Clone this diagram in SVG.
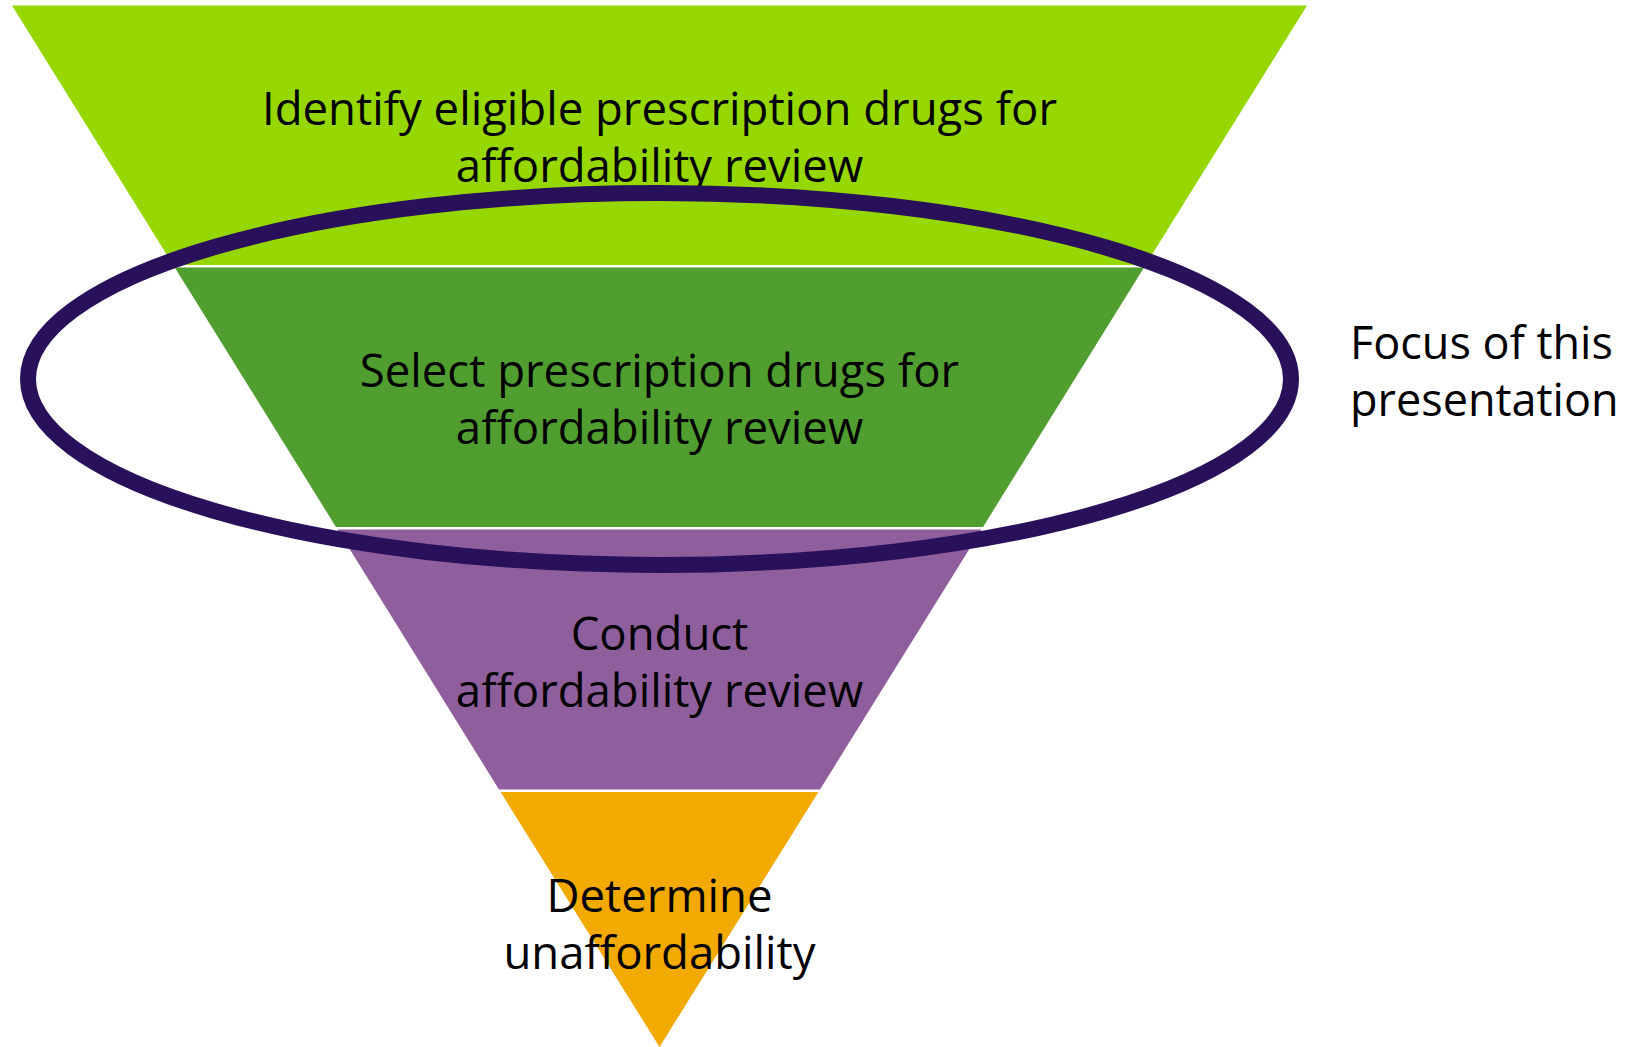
<svg xmlns="http://www.w3.org/2000/svg" width="1631" height="1047" viewBox="0 0 1631 1047">
  <style>
    .lbl { font-family: "Open Sans", "Noto Sans", "Liberation Sans", sans-serif; font-size: 45.5px; fill: #000000; text-anchor: middle; }
    .side { font-family: "Open Sans", "Noto Sans", "Liberation Sans", sans-serif; font-size: 45px; fill: #000000; text-anchor: start; }
  </style>
  <rect width="1631" height="1047" fill="#ffffff"/>
  <g id="stage1">
    <polygon points="12,5.5 1307,5.5 1145.5,265 173.2,265" fill="#97D700"/>
    <text class="lbl" x="659.5" y="125">Identify eligible prescription drugs for</text>
    <text class="lbl" x="659.5" y="182">affordability review</text>
  </g>
  <g id="stage2">
    <polygon points="174.8,267.5 1144,267.5 983,527 336,527" fill="#509E2F"/>
    <text class="lbl" x="659.5" y="387">Select prescription drugs for</text>
    <text class="lbl" x="659.5" y="444">affordability review</text>
  </g>
  <g id="stage3">
    <polygon points="337.5,529.5 981.5,529.5 820,789.5 499,789.5" fill="#8F5E9C"/>
    <text class="lbl" x="659.5" y="650">Conduct</text>
    <text class="lbl" x="659.5" y="707">affordability review</text>
  </g>
  <g id="stage4">
    <polygon points="500.6,792 818.4,792 659.5,1047" fill="#F2A900"/>
    <text class="lbl" x="659.5" y="912">Determine</text>
    <text class="lbl" x="659.5" y="969">unaffordability</text>
  </g>
  <g id="focus">
    <ellipse cx="659.5" cy="379" rx="631.5" ry="186" fill="none" stroke="#28105A" stroke-width="16"/>
  </g>
  <g id="focus-label">
    <text class="side" x="1350" y="359">Focus of this</text>
    <text class="side" x="1350" y="416">presentation</text>
  </g>
  <g id="connectors"></g>
</svg>
